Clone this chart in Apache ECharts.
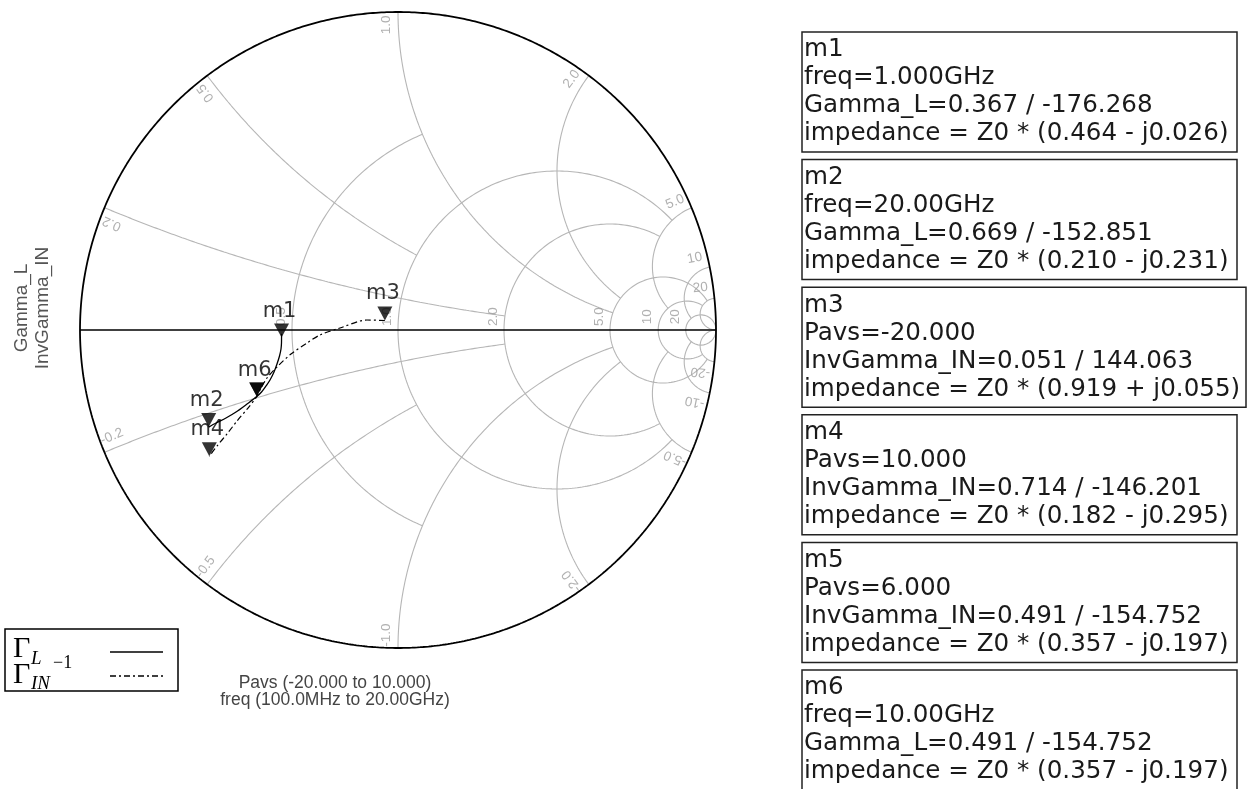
<!DOCTYPE html>
<html><head><meta charset="utf-8">
<script src="https://cdn.jsdelivr.net/npm/echarts@6.0.0/dist/echarts.min.js"></script>
<style>html,body{margin:0;padding:0;background:#fff;}#c{width:1249px;height:789px;}</style>
</head><body><div id="c"></div>
<script>
// ---------------- data ----------------
const freqGHz   = [0.1, 1, 2, 3, 4, 5, 6, 7, 8, 9, 10, 12, 14, 16, 18, 20];
const gammaL_re = [-0.366, -0.3662, -0.3664, -0.3679, -0.3726, -0.3805, -0.3899, -0.4025, -0.4151, -0.4292, -0.4441, -0.4748, -0.5094, -0.5409, -0.5723, -0.5953];
const gammaL_im = [-0.012, -0.0239, -0.0409, -0.0597, -0.0818, -0.1069, -0.1321, -0.1572, -0.1761, -0.1950, -0.2094, -0.2327, -0.2579, -0.2767, -0.2925, -0.3053];

const pavs          = [-20, -17, -14, -11, -8, -5, -2, 1, 4, 6, 6.8, 7.6, 8.4, 9.2, 10];
const invGammaIN_re = [-0.0413, -0.0975, -0.1824, -0.2453, -0.2862, -0.3365, -0.3774, -0.4119, -0.4340, -0.4441, -0.4717, -0.5063, -0.5377, -0.5692, -0.5934];
const invGammaIN_im = [0.0299, 0.0314, 0.0063, -0.0157, -0.0409, -0.0755, -0.1132, -0.1509, -0.1887, -0.2094, -0.2453, -0.2862, -0.3270, -0.3648, -0.3972];

const markerNames     = ['m1', 'm2', 'm3', 'm4', 'm5', 'm6'];
const markerMag       = [0.367, 0.669, 0.051, 0.714, 0.491, 0.491];
const markerAngDeg    = [-176.268, -152.851, 144.063, -146.201, -154.752, -154.752];
const markerShowLabel = [true, true, true, true, false, true];
const markerSweep     = ['freq=1.000GHz', 'freq=20.00GHz', 'Pavs=-20.000', 'Pavs=10.000', 'Pavs=6.000', 'freq=10.00GHz'];
const markerValue     = ['Gamma_L=0.367 / -176.268', 'Gamma_L=0.669 / -152.851', 'InvGamma_IN=0.051 / 144.063',
                         'InvGamma_IN=0.714 / -146.201', 'InvGamma_IN=0.491 / -154.752', 'Gamma_L=0.491 / -154.752'];
const markerImpedance = ['impedance = Z0 * (0.464 - j0.026)', 'impedance = Z0 * (0.210 - j0.231)', 'impedance = Z0 * (0.919 + j0.055)',
                         'impedance = Z0 * (0.182 - j0.295)', 'impedance = Z0 * (0.357 - j0.197)', 'impedance = Z0 * (0.357 - j0.197)'];

const resistanceTicks  = [0.5, 1, 2, 5, 10, 20];
const resistanceLabels = ['0.5', '1.0', '2.0', '5.0', '10', '20'];
const resistanceMaxX   = [1, 5, 5, 20, 20, Infinity];
const reactanceTicks   = [0.2, 0.5, 1, 2, 5, 10, 20];
const reactanceLabels  = ['0.2', '0.5', '1.0', '2.0', '5.0', '10', '20'];
const reactanceMaxR    = [2, 1, 5, 5, 10, 20, Infinity];

const yTitles = ['Gamma_L', 'InvGamma_IN'];
const sweepTitles = ['Pavs (-20.000 to 10.000)', 'freq (100.0MHz to 20.00GHz)'];

// ---------------- helpers ----------------
function zToGamma(r, x) { const d = (r + 1) * (r + 1) + x * x; return [(r * r - 1 + x * x) / d, 2 * x / d]; }
function rCircle(r, xmax) {
  const c = r / (1 + r), rho = 1 / (1 + r);
  let p0 = 0;
  if (isFinite(xmax)) { const g = zToGamma(r, xmax); p0 = Math.atan2(g[1], g[0] - c); }
  const pts = [], N = 300;
  for (let i = 0; i <= N; i++) { const p = p0 + (2 * Math.PI - 2 * p0) * i / N; pts.push([c + rho * Math.cos(p), rho * Math.sin(p)]); }
  return pts;
}
function xArc(x, rmax) {
  const ax = Math.abs(x), s = Math.sign(x), cy = 1 / ax, rho = 1 / ax;
  const ang = g => { let a = Math.atan2(g[1] - cy, g[0] - 1); if (a < 0) a += 2 * Math.PI; return a; };
  const p0 = ang(zToGamma(0, ax));
  const p1 = isFinite(rmax) ? ang(zToGamma(rmax, ax)) : 1.5 * Math.PI;
  const pts = [], N = 300;
  for (let i = 0; i <= N; i++) { const p = p0 + (p1 - p0) * i / N; pts.push([1 + rho * Math.cos(p), s * (cy + rho * Math.sin(p))]); }
  return pts;
}

const GRID = '#b6b6b6', LBL = '#9c9c9c';
const series = [];
function gridLine(data) {
  series.push({ type: 'line', data, symbol: 'none', silent: true, clip: false, animation: false, z: 1,
    lineStyle: { color: GRID, width: 1.1 } });
}
resistanceTicks.forEach((r, i) => gridLine(rCircle(r, resistanceMaxX[i])));
reactanceTicks.forEach((x, i) => { gridLine(xArc(x, reactanceMaxR[i])); gridLine(xArc(-x, reactanceMaxR[i])); });

// outer circle and real axis
const outer = [];
for (let i = 0; i <= 720; i++) { const a = 2 * Math.PI * i / 720; outer.push([Math.cos(a), Math.sin(a)]); }
series.push({ type: 'line', data: outer, symbol: 'none', silent: true, clip: false, animation: false, z: 2,
  lineStyle: { color: '#000', width: 1.8 } });
series.push({ type: 'line', data: [[-1, 0], [1, 0]], symbol: 'none', silent: true, clip: false, animation: false, z: 2,
  lineStyle: { color: '#000', width: 1.5 } });

// grid labels
const gl = [];
reactanceTicks.forEach((x, i) => {
  const th = Math.atan2(2 * x, x * x - 1) * 180 / Math.PI;
  [1, -1].forEach(s => {
    const a = (th + 2.2) * Math.PI / 180, R = 0.96;
    gl.push({ value: [R * Math.cos(a), s * R * Math.sin(a)], name: (s < 0 ? '-' : '') + reactanceLabels[i],
      label: { rotate: s > 0 ? th : 180 - th } });
  });
});
resistanceTicks.forEach((r, i) => {
  const cx = (r - 1) / (r + 1);
  gl.push({ value: [cx - 0.034, 0.042], name: resistanceLabels[i], label: { rotate: 90 } });
});
series.push({ type: 'scatter', data: gl, symbolSize: 1, itemStyle: { color: 'rgba(0,0,0,0)' }, silent: true, animation: false, z: 3,
  label: { show: true, position: 'inside', formatter: p => p.name, color: LBL, fontSize: 13.5, fontFamily: 'Liberation Sans' } });

// traces
series.push({ name: 'Gamma_L', type: 'line', data: freqGHz.map((f, i) => [gammaL_re[i], gammaL_im[i]]), symbol: 'none',
  smooth: 0.3, animation: false, z: 4, lineStyle: { color: '#000', width: 1.3 } });
series.push({ name: 'InvGamma_IN', type: 'line', data: pavs.map((p, i) => [invGammaIN_re[i], invGammaIN_im[i]]), symbol: 'none',
  smooth: 0.3, animation: false, z: 4, lineStyle: { color: '#000', width: 1.2, type: [6, 3, 2, 3] } });

// markers
series.push({ type: 'scatter', animation: false, z: 5, symbol: 'path://M0,0L16,0L8,14Z', symbolSize: [15, 14], symbolOffset: [0, '-50%'],
  itemStyle: { color: '#000' },
  data: markerNames.map((n, i) => {
    const a = markerAngDeg[i] * Math.PI / 180;
    return { value: [markerMag[i] * Math.cos(a), markerMag[i] * Math.sin(a)], name: n, label: { show: markerShowLabel[i] } };
  }),
  label: { show: true, position: 'top', distance: 2, offset: [-2, 0], formatter: p => p.name, color: '#000', fontSize: 21, fontFamily: 'DejaVu Sans' } });

// ---------------- graphic: titles, legend, marker boxes ----------------
const F = '"DejaVu Sans", sans-serif';
const A = '"Liberation Sans", Arial, sans-serif';
const graphic = [];
yTitles.forEach((t, i) => graphic.push({ type: 'text', x: 22 + 21 * i, y: 308, rotation: Math.PI / 2,
  style: { text: t, font: '19px ' + A, fill: '#555', align: 'center', verticalAlign: 'middle' } }));
sweepTitles.forEach((t, i) => graphic.push({ type: 'text', x: 335, y: 683 + 17 * i,
  style: { text: t, font: '17.5px ' + A, fill: '#444', align: 'center', verticalAlign: 'middle' } }));

// legend
graphic.push({ type: 'rect', shape: { x: 5, y: 629, width: 173, height: 62 }, style: { fill: '#fff', stroke: '#000', lineWidth: 1.5 } });
const SER = '"Liberation Serif", "DejaVu Serif", serif';
graphic.push({ type: 'text', x: 13, y: 649, style: { text: 'Γ', font: '30px ' + SER, fill: '#000', verticalAlign: 'middle' } });
graphic.push({ type: 'text', x: 31, y: 659, style: { text: 'L', font: 'italic 19px ' + SER, fill: '#000', verticalAlign: 'middle' } });
graphic.push({ type: 'text', x: 13, y: 675, style: { text: 'Γ', font: '30px ' + SER, fill: '#000', verticalAlign: 'middle' } });
graphic.push({ type: 'text', x: 31, y: 684, style: { text: 'IN', font: 'italic 19px ' + SER, fill: '#000', verticalAlign: 'middle' } });
graphic.push({ type: 'text', x: 53, y: 663, style: { text: '−1', font: '18px ' + SER, fill: '#000', verticalAlign: 'middle' } });
graphic.push({ type: 'line', shape: { x1: 110, y1: 652, x2: 163, y2: 652 }, style: { stroke: '#000', lineWidth: 1.4 } });
graphic.push({ type: 'line', shape: { x1: 110, y1: 676, x2: 163, y2: 676 }, style: { stroke: '#000', lineWidth: 1.4, lineDash: [6, 3, 2, 3] } });

// marker boxes
markerNames.forEach((n, i) => {
  const top = 32 + 127.6 * i, w = (i === 2 ? 444 : 435);
  graphic.push({ type: 'rect', shape: { x: 802, y: top, width: w, height: 120 }, style: { fill: '#fff', stroke: '#222', lineWidth: 1.5 } });
  [n, markerSweep[i], markerValue[i], markerImpedance[i]].forEach((t, k) => {
    graphic.push({ type: 'text', x: 804, y: top + 18 + 28 * k,
      style: { text: t, font: '24.6px ' + F, fill: '#1a1a1a', verticalAlign: 'middle' } });
  });
});

const chart = echarts.init(document.getElementById('c'), null, { renderer: 'canvas' });
chart.setOption({
  backgroundColor: '#fff',
  animation: false,
  grid: { left: 80, top: 12, width: 636, height: 636 },
  xAxis: { type: 'value', min: -1, max: 1, show: false },
  yAxis: { type: 'value', min: -1, max: 1, show: false },
  series,
  graphic
});
</script></body></html>
